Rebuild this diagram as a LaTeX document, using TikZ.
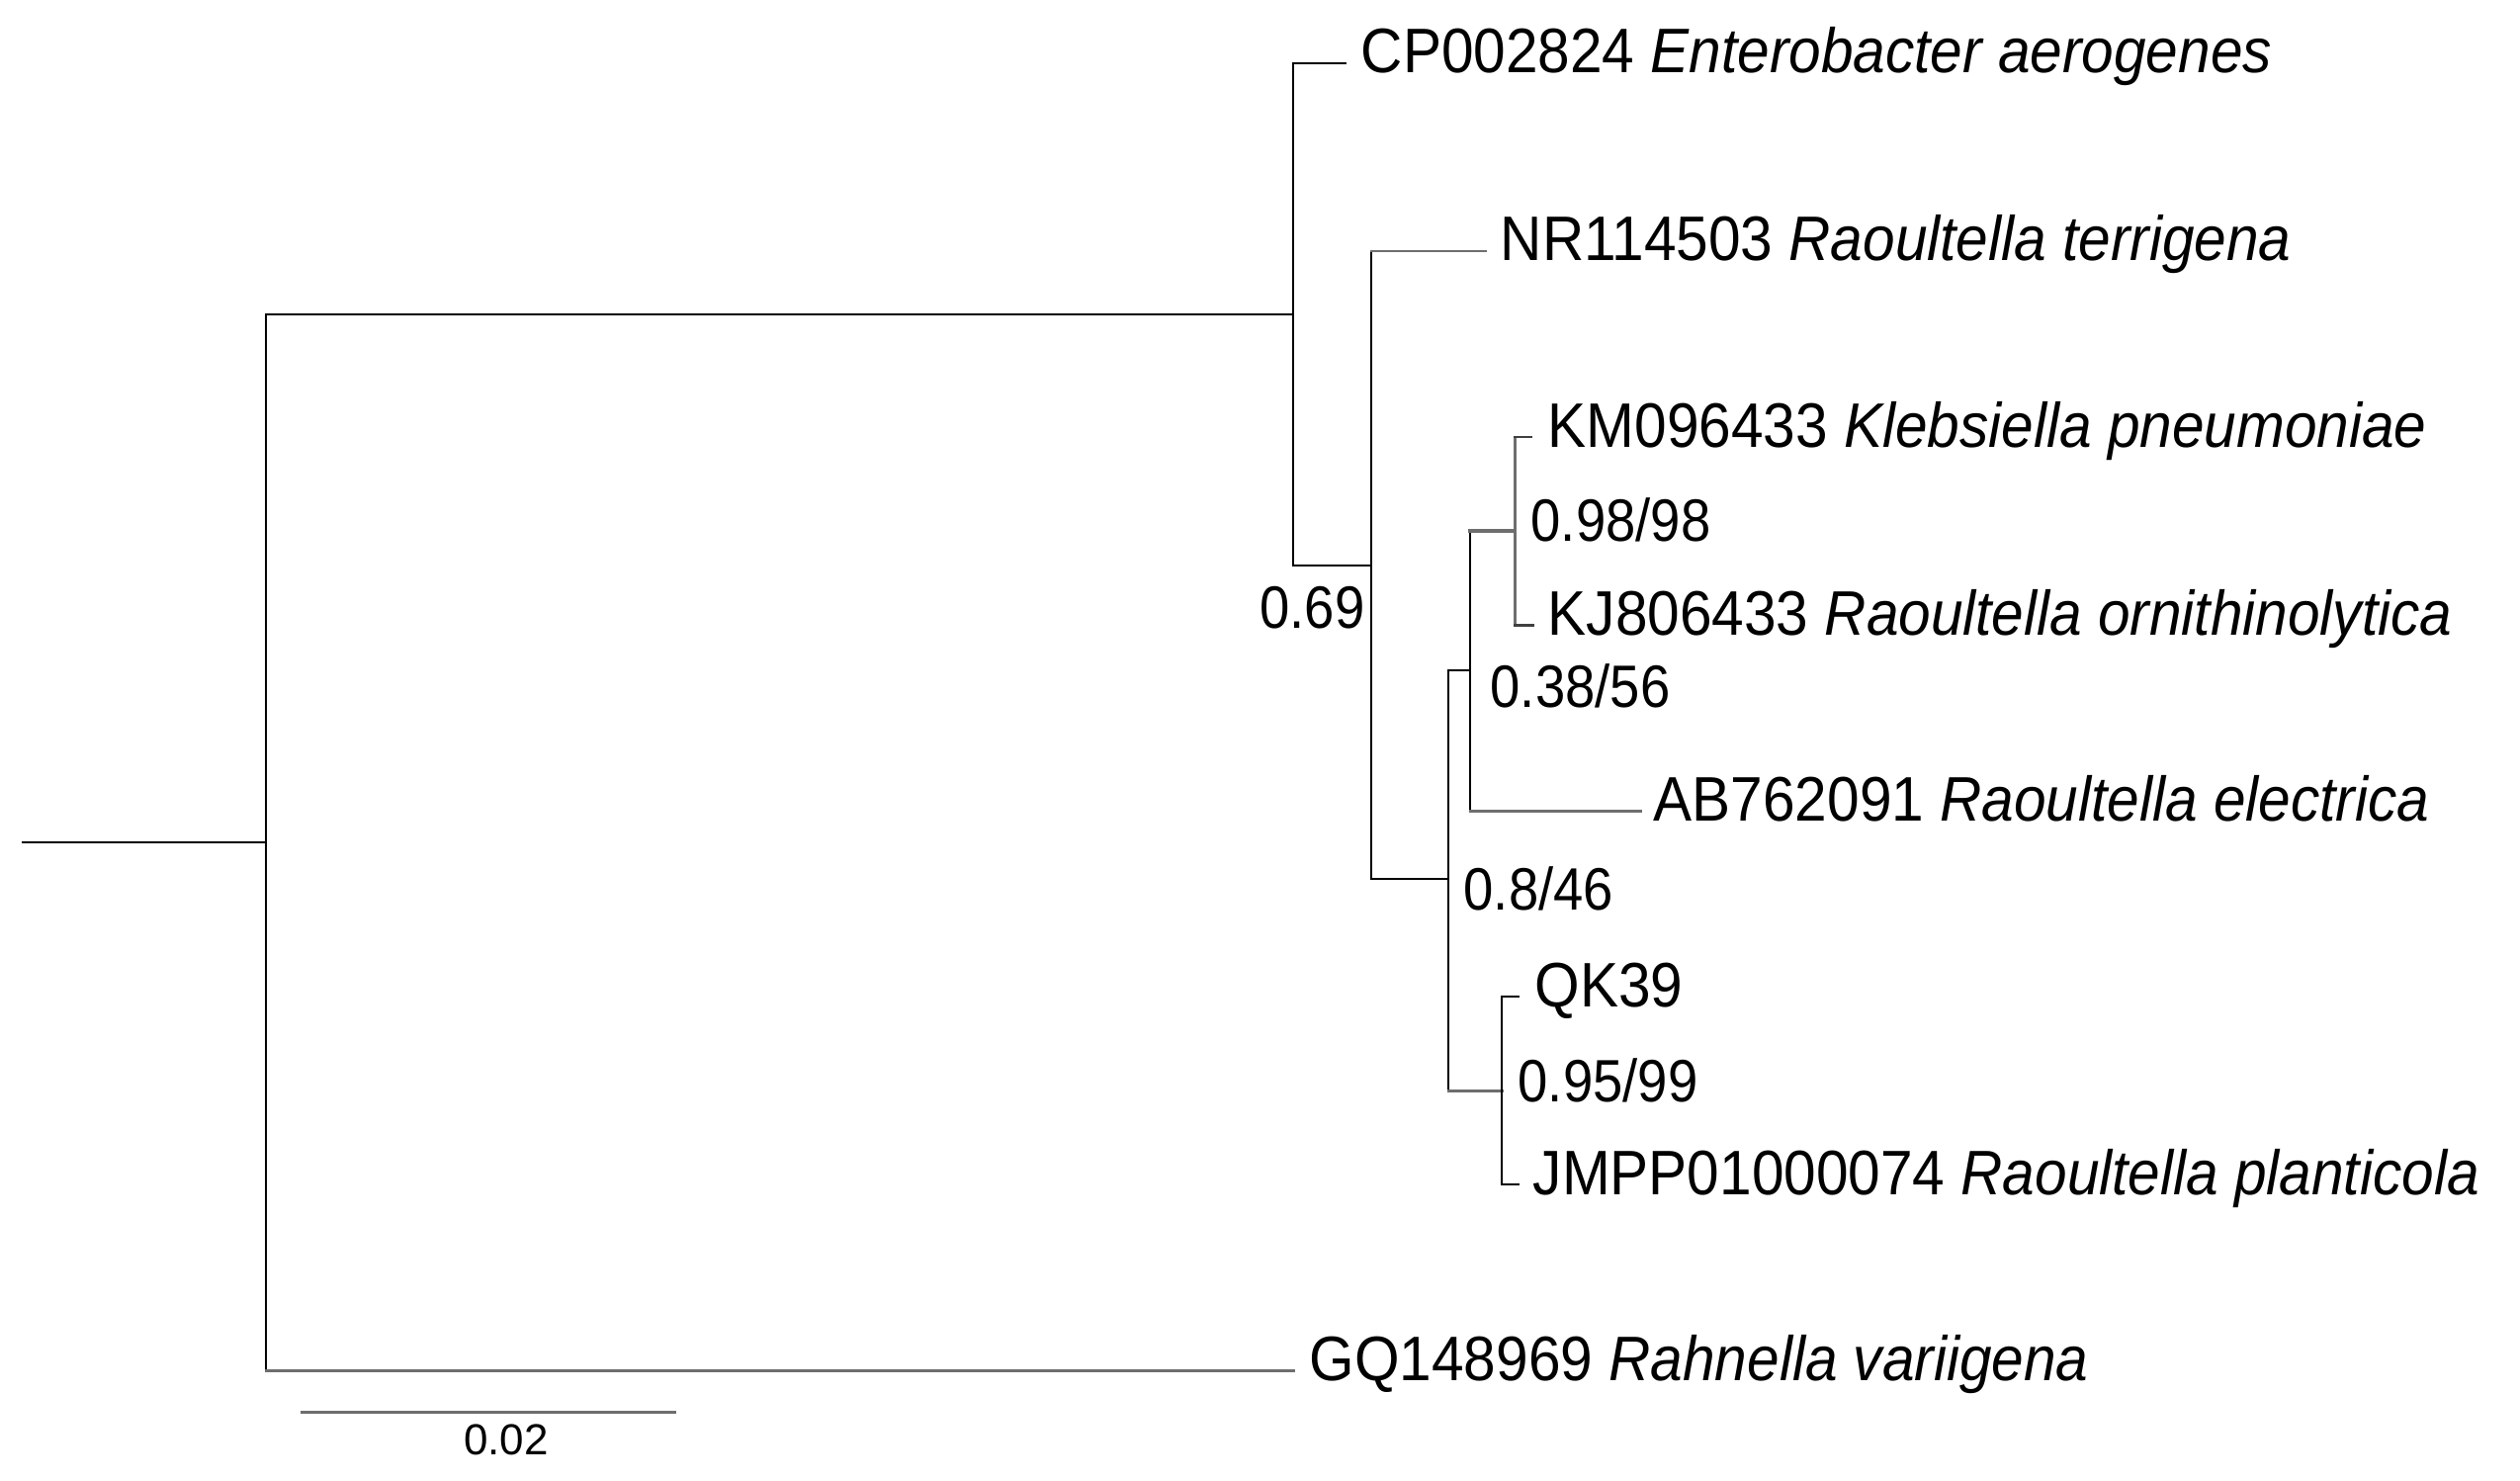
\documentclass[tikz,border=0pt]{standalone}
\usepackage{fontspec}
\newfontfamily\leaffont[FakeStretch=0.92]{Liberation Sans}
\newfontfamily\treefont[FakeStretch=0.9]{Liberation Sans}
\newfontfamily\barfont{Liberation Sans}
\begin{document}
\begin{tikzpicture}[x=0.01cm,y=-0.01cm,
  blk/.style={draw=black,line width=0.65pt,line cap=rect},
  gry/.style={draw=black!57,line width=0.85pt,line cap=rect},
  leaf/.style={anchor=base west,inner sep=0pt,font=\leaffont\fontsize{18.1pt}{20pt}\selectfont},
  supp/.style={anchor=base west,inner sep=0pt,font=\treefont\fontsize{17.2pt}{19pt}\selectfont},
  barlab/.style={anchor=base,inner sep=0pt,font=\barfont\fontsize{12.5pt}{14pt}\selectfont}]
\fill[white] (0,0) rectangle (2549,1497);
\useasboundingbox (0,0) rectangle (2549,1497);
% internal nodes
\coordinate (r0) at (23,852);
\coordinate (nA) at (269,852);
\coordinate (nB) at (1308,318);
\coordinate (nC) at (1387,572);
\coordinate (nD) at (1465,889);
\coordinate (nE) at (1487,678);
\coordinate (nF) at (1532,537);
\coordinate (nG) at (1519,1103);
% tips
\coordinate (tCP) at (1361,64);
\coordinate (tNR) at (1502,254);
\coordinate (tKM) at (1548,442);
\coordinate (tKJ) at (1550,632);
\coordinate (tAB) at (1659,820);
\coordinate (tQK) at (1536,1008);
\coordinate (tJM) at (1536,1198);
\coordinate (tGQ) at (1308,1386);
% scale bar ends
\coordinate (s1) at (305,1428);
\coordinate (s2) at (682,1428);
% root
\draw[blk] (r0) -- (nA);
\draw[blk] (nA |- nB) -- (nA |- tGQ);
\draw[blk] (nA |- nB) -- (nB);
\draw[gry] (nA |- tGQ) -- (tGQ);
% B
\draw[blk] (nB |- tCP) -- (nB |- nC);
\draw[blk] (nB |- tCP) -- (tCP);
\draw[blk] (nB |- nC) -- (nC);
% C
\draw[blk] (nC |- tNR) -- (nC |- nD);
\draw[gry] (nC |- tNR) -- (tNR);
\draw[blk] (nC |- nD) -- (nD);
% D
\draw[blk] (nD |- nE) -- (nD |- nG);
\draw[blk] (nD |- nE) -- (nE);
\draw[gry] (nD |- nG) -- (nG);
% E
\draw[blk] (nE |- nF) -- (nE |- tAB);
\draw[gry,line width=1.1pt] (nE |- nF) -- (nF);
\draw[gry] (nE |- tAB) -- (tAB);
% F
\draw[gry] (nF |- tKM) -- (nF |- tKJ);
\draw[gry,draw=black!75] (nF |- tKM) -- (tKM);
\draw[gry,draw=black!75] (nF |- tKJ) -- (tKJ);
% G
\draw[blk] (nG |- tQK) -- (nG |- tJM);
\draw[blk] (nG |- tQK) -- (tQK);
\draw[blk] (nG |- tJM) -- (tJM);
% scale bar
\draw[gry] (s1) -- (s2);
% leaf labels
\node[leaf] (lCP) at (1376,74) {CP002824 \textit{Enterobacter aerogenes}};
\node[leaf] (lNR) at (1517,264) {NR114503 \textit{Raoultella terrigena}};
\node[leaf] (lKM) at (1565,452) {KM096433 \textit{Klebsiella pneumoniae}};
\node[leaf] (lKJ) at (1565,642) {KJ806433 \textit{Raoultella ornithinolytica}};
\node[leaf] (lAB) at (1672,830) {AB762091 \textit{Raoultella electrica}};
\node[leaf] (lQK) at (1552,1018) {QK39};
\node[leaf] (lJM) at (1550,1208) {JMPP01000074 \textit{Raoultella planticola}};
\node[leaf] (lGQ) at (1324,1396) {GQ148969 \textit{Rahnella variigena}};
% support values
\node[supp,anchor=base east] (bB) at (1381,635) {0.69};
\node[supp] (bF) at (1548,547) {0.98/98};
\node[supp] (bE) at (1507,715) {0.38/56};
\node[supp] (bD) at (1480,920) {0.8/46};
\node[supp] (bG) at (1535,1114) {0.95/99};
\node[barlab] (sl) at (512,1471) {0.02};
\end{tikzpicture}
\end{document}
